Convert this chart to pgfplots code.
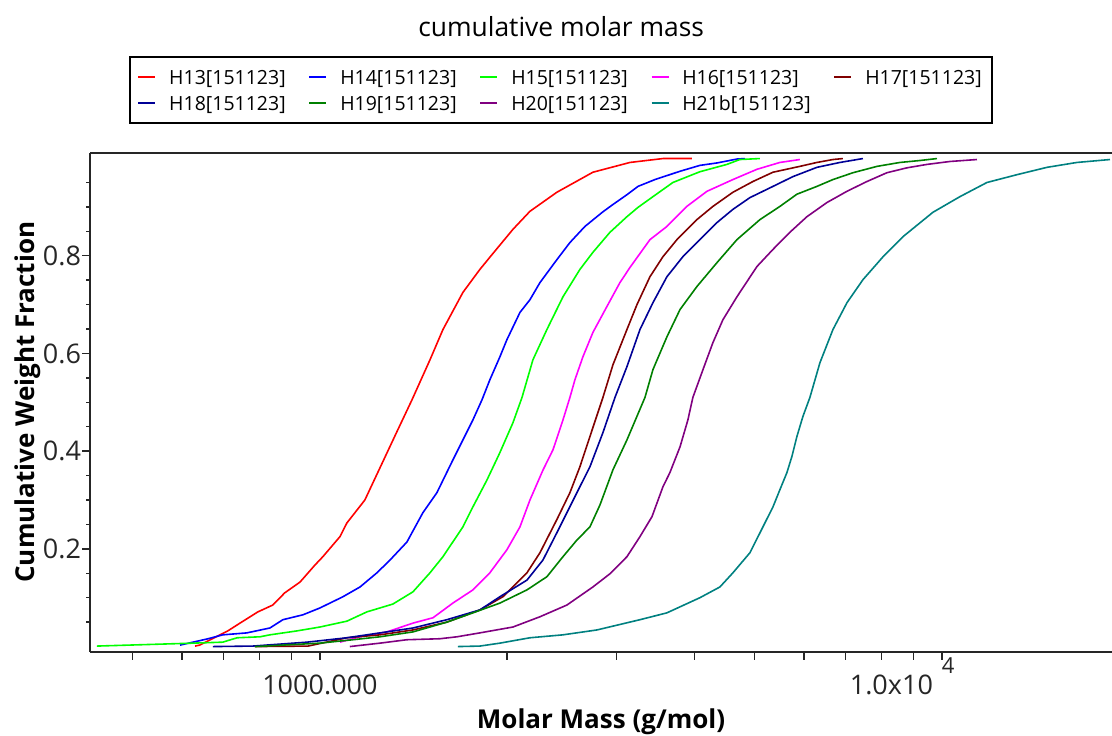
\documentclass[border=0pt]{standalone}
\usepackage{pgfplots}
\pgfplotsset{compat=1.18}
\usepackage{fontspec}
\setmainfont{Open Sans}
\usetikzlibrary{calc}

\definecolor{cHa}{RGB}{255,0,0}
\definecolor{cHb}{RGB}{0,0,255}
\definecolor{cHc}{RGB}{0,255,0}
\definecolor{cHd}{RGB}{255,0,255}
\definecolor{cHe}{RGB}{128,0,0}
\definecolor{cHf}{RGB}{0,0,150}
\definecolor{cHg}{RGB}{0,128,0}
\definecolor{cHh}{RGB}{128,0,128}
\definecolor{cHi}{RGB}{0,128,128}

\pgfplotstableread{
M w
630 0.001
641 0.003
711 0.032
744 0.048
795 0.071
840 0.085
878 0.110
929 0.132
982 0.167
1011 0.184
1077 0.225
1105 0.253
1181 0.300
1249 0.366
1330 0.440
1406 0.505
1503 0.587
1577 0.649
1698 0.725
1808 0.772
1890 0.802
2043 0.854
2176 0.891
2404 0.930
2747 0.971
3151 0.991
3560 0.999
3964 0.999
}\hA
\pgfplotstableread{
M w
596 0.003
661 0.016
698 0.024
763 0.028
831 0.038
872 0.055
939 0.065
1000 0.079
1089 0.102
1160 0.122
1235 0.151
1296 0.177
1380 0.214
1464 0.274
1542 0.315
1636 0.382
1698 0.423
1762 0.464
1822 0.505
1876 0.546
1947 0.593
1998 0.628
2097 0.684
2176 0.710
2258 0.745
2404 0.792
2523 0.827
2667 0.860
2851 0.890
2959 0.905
3116 0.925
3246 0.942
3457 0.956
3793 0.973
4082 0.985
4349 0.990
4682 0.998
4823 0.999
}\hB
\pgfplotstableread{
M w
438 0.001
625 0.007
698 0.009
736 0.018
801 0.020
831 0.024
918 0.032
1000 0.040
1105 0.052
1190 0.071
1310 0.087
1411 0.112
1503 0.151
1577 0.184
1698 0.245
1762 0.286
1856 0.341
1947 0.397
2043 0.458
2113 0.510
2200 0.587
2317 0.649
2459 0.716
2618 0.772
2747 0.807
2926 0.848
3116 0.880
3246 0.899
3431 0.921
3694 0.950
4082 0.972
4511 0.987
4733 0.997
5098 0.999
}\hC
\pgfplotstableread{
M w
1077 0.009
1160 0.020
1282 0.030
1411 0.048
1520 0.059
1636 0.089
1762 0.116
1876 0.151
1998 0.198
2097 0.245
2176 0.300
2283 0.361
2370 0.403
2459 0.464
2523 0.510
2570 0.546
2647 0.593
2747 0.643
2893 0.696
3036 0.745
3151 0.776
3393 0.833
3613 0.860
3890 0.901
4191 0.932
4613 0.956
5042 0.977
5489 0.991
5910 0.997
}\hD
\pgfplotstableread{
M w
786 0.000
957 0.001
1105 0.018
1249 0.024
1411 0.034
1600 0.050
1808 0.075
1969 0.102
2152 0.151
2258 0.192
2404 0.260
2523 0.315
2618 0.368
2717 0.430
2851 0.510
2959 0.577
3116 0.649
3234 0.700
3393 0.757
3560 0.798
3750 0.833
4037 0.874
4283 0.901
4613 0.930
4967 0.952
5350 0.971
5910 0.983
6295 0.991
6680 0.997
6931 0.999
}\hE
\pgfplotstableread{
M w
673 0.000
780 0.001
953 0.009
1105 0.018
1249 0.028
1411 0.038
1600 0.055
1808 0.075
1947 0.102
2152 0.136
2283 0.177
2404 0.233
2495 0.274
2589 0.315
2717 0.368
2851 0.438
2981 0.510
3116 0.573
3270 0.649
3431 0.704
3613 0.757
3833 0.798
4082 0.833
4349 0.868
4613 0.895
4912 0.919
5350 0.942
5760 0.962
6295 0.981
6855 0.991
7465 0.999
}\hF
\pgfplotstableread{
M w
786 0.000
1000 0.007
1130 0.014
1249 0.020
1411 0.030
1600 0.050
1762 0.069
1947 0.089
2152 0.116
2317 0.143
2459 0.184
2589 0.218
2717 0.245
2820 0.290
2959 0.362
3116 0.423
3331 0.510
3431 0.567
3613 0.634
3793 0.690
4037 0.737
4349 0.786
4682 0.833
5098 0.874
5489 0.901
5846 0.926
6295 0.942
6680 0.956
7195 0.970
7865 0.983
8560 0.991
9220 0.995
9818 0.999
}\hG
\pgfplotstableread{
M w
1117 0.000
1249 0.007
1380 0.014
1559 0.016
1661 0.020
1808 0.028
2043 0.040
2258 0.061
2495 0.085
2747 0.122
2926 0.149
3116 0.184
3270 0.225
3419 0.266
3560 0.327
3653 0.356
3793 0.409
3905 0.464
3978 0.510
4129 0.567
4283 0.622
4445 0.669
4682 0.716
5042 0.778
5350 0.813
5695 0.848
6067 0.880
6534 0.909
7037 0.932
7577 0.952
8158 0.970
8784 0.980
9460 0.987
10301 0.993
11384 0.997
}\hH
\pgfplotstableread{
M w
1667 0.000
1808 0.001
1947 0.007
2176 0.018
2459 0.024
2788 0.034
3270 0.055
3613 0.069
4082 0.100
4396 0.122
4613 0.151
4912 0.192
5155 0.245
5350 0.286
5489 0.321
5633 0.356
5738 0.389
5846 0.430
5977 0.471
6134 0.510
6366 0.581
6680 0.649
7037 0.704
7465 0.751
8041 0.798
8655 0.839
9672 0.889
10688 0.921
11812 0.950
13203 0.966
14752 0.981
16482 0.991
18627 0.997
}\hI

\begin{document}
\begin{tikzpicture}
\begin{axis}[
  name=ax,
  scale only axis,
  width=511pt, height=249.5pt,
  xmode=log,
  xmin=427, xmax=18770,
  ymin=-0.0105, ymax=1.011,
  axis x line*=bottom, axis y line*=left,
  axis line style={line width=1pt, black!85},
  tick align=outside,
  tick style={line width=0.7pt, black!85},
  major tick length=4pt, minor tick length=1.8pt,
  xtick={500,600,700,800,900,1000,2000,3000,4000,5000,6000,7000,8000,9000,10000},
  xticklabels={,,,,,1000.000,,,,,,,,,{\makebox[0pt][r]{1.0x10\hspace{4.5pt}}\makebox[0pt][l]{\smash{\raisebox{1.45ex}{\fontsize{11}{11}\selectfont 4}}}}},
  ytick={0.2,0.4,0.6,0.8},
  minor ytick={0.05,0.1,0.15,0.25,0.3,0.35,0.45,0.5,0.55,0.65,0.7,0.75,0.85,0.9,0.95},
  yticklabel style={/pgf/number format/.cd, fixed, fixed zerofill, precision=1, assume math mode=true, /tikz/.cd, xshift=3pt},
  xticklabel style={yshift=-4pt},
  tick label style={font=\fontsize{13.5}{16}\selectfont, text=black!85},
  xlabel={Molar Mass (g/mol)},
  ylabel={Cumulative Weight Fraction},
  label style={font=\bfseries\fontsize{13}{15}\selectfont},
  ylabel style={at={($(rel axis cs:0,0.5)+(-31pt,0pt)$)}, anchor=center},
  title={cumulative molar mass},
  title style={at={(0.461,1)}, anchor=center, yshift=56.9pt, font=\fontsize{13.2}{16}\selectfont},
  legend columns=5,
  legend cell align=left,
  legend image code/.code={\draw[#1, line width=0.8pt] (0pt,0pt) -- (8.5pt,0pt);},
  legend style={at={(0.461,1.0575)}, anchor=south, draw=black, line width=0.75pt,
    font=\fontsize{9.75}{11}\selectfont, inner sep=3.75pt,
    nodes={inner sep=1.5pt, text height=8.25pt, text depth=1.25pt},
    row sep=0.5pt,
    /tikz/every odd column/.append style={column sep=5pt},
    /tikz/every even column/.append style={column sep=10pt}},
  every axis plot/.append style={line width=0.8pt},
]
\addplot[cHa] table[x=M,y=w] {\hA}; \addlegendentry{H13[151123]}
\addplot[cHb] table[x=M,y=w] {\hB}; \addlegendentry{H14[151123]}
\addplot[cHc] table[x=M,y=w] {\hC}; \addlegendentry{H15[151123]}
\addplot[cHd] table[x=M,y=w] {\hD}; \addlegendentry{H16[151123]}
\addplot[cHe] table[x=M,y=w] {\hE}; \addlegendentry{H17[151123]\hspace{6pt}}
\addplot[cHf] table[x=M,y=w] {\hF}; \addlegendentry{H18[151123]}
\addplot[cHg] table[x=M,y=w] {\hG}; \addlegendentry{H19[151123]}
\addplot[cHh] table[x=M,y=w] {\hH}; \addlegendentry{H20[151123]}
\addplot[cHi] table[x=M,y=w] {\hI}; \addlegendentry{H21b[151123]}
\end{axis}
\draw[line width=1pt, black!85] (ax.north west) -- (ax.north east);
\pgfresetboundingbox
\path[use as bounding box] ($(ax.south west)+(-45pt,-42.15pt)$) rectangle ($(ax.north east)+(0pt,76.35pt)$);
\end{tikzpicture}
\end{document}
